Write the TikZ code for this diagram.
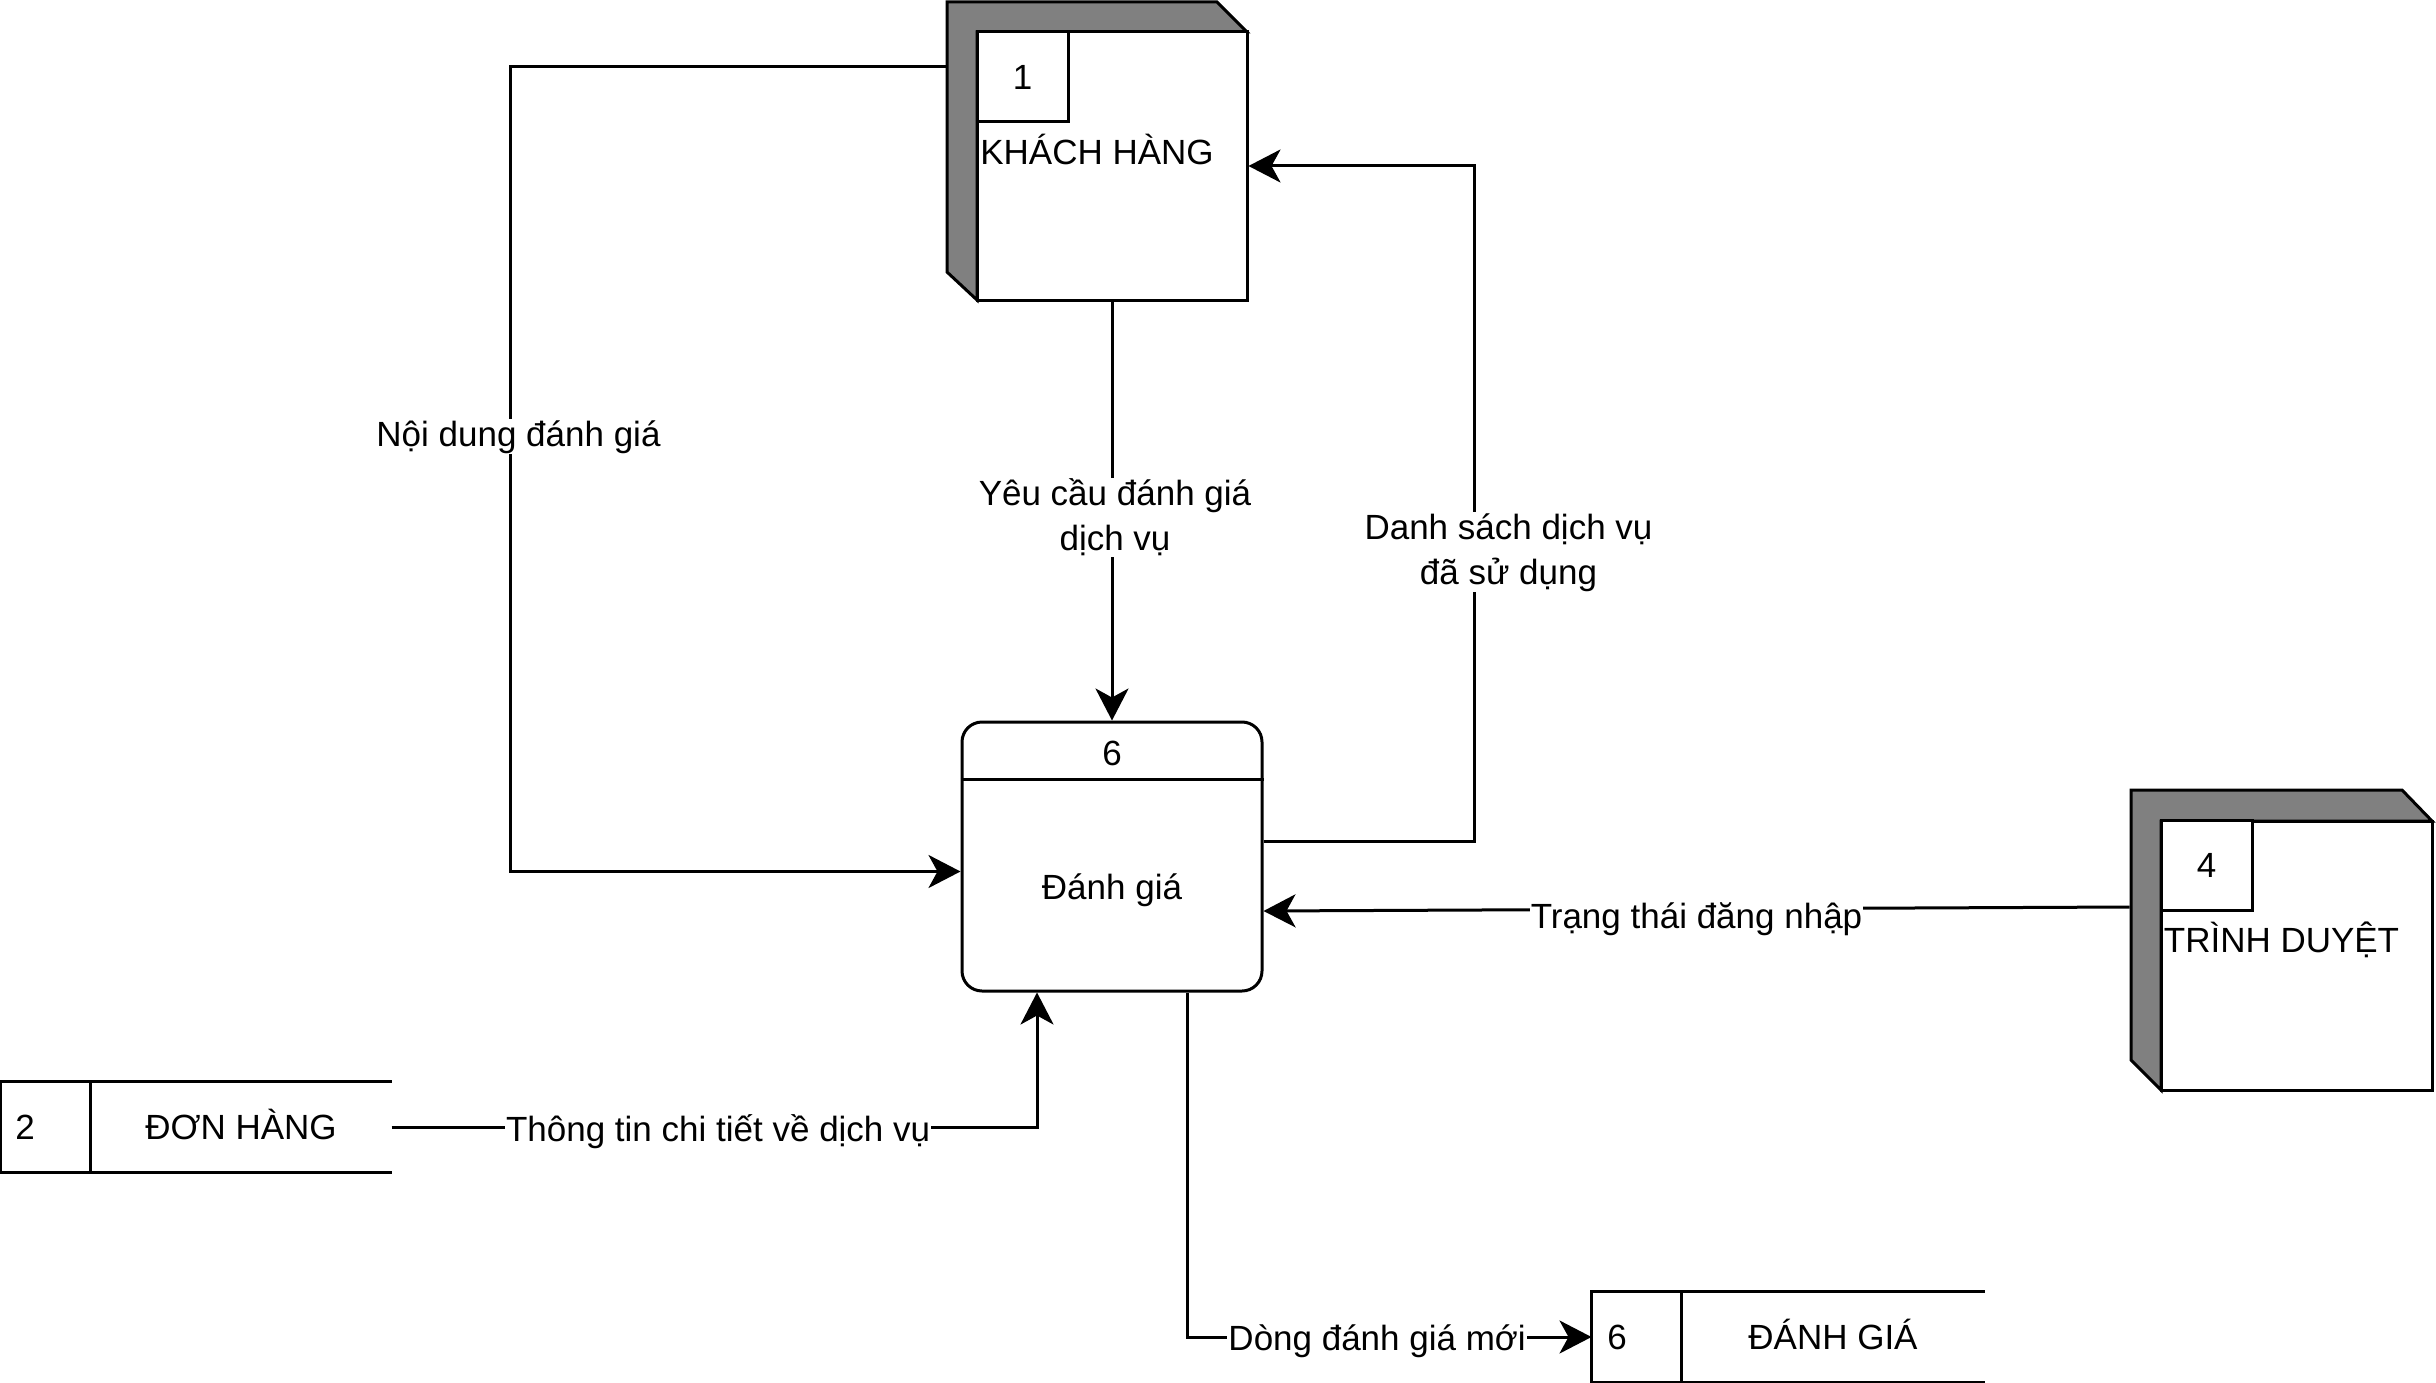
\documentclass[tikz,border=0pt]{standalone}
\usepackage{fontspec}
\setmainfont{Liberation Sans}
\usetikzlibrary{arrows.meta}

\begin{document}
\begin{tikzpicture}[x=1pt,y=-1pt,line width=3pt,font=\fontsize{35}{45}\selectfont,
  frontbox/.style={draw,fill=white,inner sep=0pt},
  numbox/.style={draw,fill=white,inner sep=0pt,minimum width=91pt,minimum height=90pt},
  entlabel/.style={inner sep=0pt},
  procbox/.style={draw,rounded corners=20pt,minimum width=300pt,minimum height=269pt},
  storebox/.style={inner sep=0pt,minimum width=390pt,minimum height=88pt},
  flow/.style={-{Stealth[length=32pt,width=33pt,inset=9pt]}},
  lbl/.style={fill=white,inner sep=1pt,align=center}]
\useasboundingbox (0,0) rectangle (2436,1383);

% KHACH HANG
\filldraw[fill=gray] (947,2) -- (1217,2) -- (1247,32) -- (977,32) -- (977,300) -- (947,272) -- cycle;
\node[frontbox,minimum width=270pt,minimum height=268pt] (khf) at (1112,166) {};
\node[numbox] (kh1) at (1022.5,77) {\raisebox{-3pt}{1}};
\node[entlabel,minimum width=300pt,minimum height=298pt] (kh) at (1097,151) {\raisebox{3pt}{KHÁCH HÀNG}};

% TRINH DUYET
\filldraw[fill=gray] (2131,790) -- (2402,790) -- (2432,821) -- (2161,821) -- (2161,1090) -- (2131,1060) -- cycle;
\node[frontbox,minimum width=271pt,minimum height=269pt] (tdf) at (2296.5,955.5) {};
\node[numbox] (td4) at (2206.5,865.5) {\raisebox{-3pt}{4}};
\node[entlabel,minimum width=301pt,minimum height=300pt] (td) at (2281.5,940) {TRÌNH DUYỆT};

% process 6
\node[procbox] (p6) at (1112,856.5) {};
\draw ([yshift=-59pt]p6.north west) -- ([yshift=-59pt]p6.north east);
\node (p6n) at (1112,753) {6};
\node (p6t) at (1112,890) {Đánh giá};

% stores
\node[storebox,minimum width=388pt] (dh) at (196,1127) {};
\draw (dh.north east) -- (dh.north west) -- (dh.south west) -- (dh.south east);
\draw ([xshift=90pt]dh.north west) -- ([xshift=90pt]dh.south west);
\node[anchor=west] (dh2) at ([xshift=10pt]dh.west) {2};
\node (dht) at (241,1124) {ĐƠN HÀNG};

\node[storebox] (dgs) at (1788,1337) {};
\draw (dgs.north east) -- (dgs.north west) -- (dgs.south west) -- (dgs.south east);
\draw ([xshift=90pt]dgs.north west) -- ([xshift=90pt]dgs.south west);
\node[anchor=west] (dgs6) at ([xshift=11pt]dgs.west) {6};
\node (dgst) at (1833,1334) {ĐÁNH GIÁ};

% flows
\draw[flow] ([yshift=-66pt]kh.north west) -- ++(-435,0) |- node[lbl,pos=0.23,xshift=8pt] {Nội dung đánh giá} ([yshift=-15pt]p6.west);
\draw[flow] (khf.south) -- node[lbl,pos=0.515,xshift=3pt] {Yêu cầu đánh giá\\dịch vụ} (p6.north);
\draw[flow] ([yshift=15pt]p6.east) -- ++(211,0) |- node[lbl,pos=0.214,xshift=34pt] {Danh sách dịch vụ\\đã sử dụng} (khf.east);
\draw[flow] ([yshift=33pt]td.west) -- node[lbl,pos=0.5,yshift=-10pt] {Trạng thái đăng nhập} ([yshift=-54.5pt]p6.east);
\draw[flow] (dh.east) -| node[lbl,pos=0.253,yshift=-5pt] {Thông tin chi tiết về dịch vụ} ([xshift=-75pt]p6.south);
\draw[flow] ([xshift=75pt]p6.south) |- node[lbl,pos=0.735,yshift=-4pt] {Dòng đánh giá mới} (dgs.west);
\end{tikzpicture}
\end{document}
